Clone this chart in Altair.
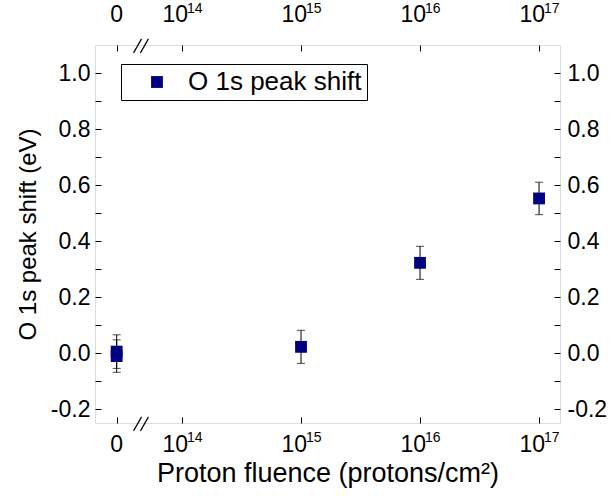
import altair as alt
import numpy as np
import pandas as pd

# ---- data ----
FLUENCE = [0, 0, 1e15, 1e16, 1e17]          # protons/cm^2
SHIFT = [0.005, -0.011, 0.022, 0.322, 0.552]  # eV
ERR = [0.060, 0.058, 0.059, 0.059, 0.058]     # eV
SERIES = "O 1s peak shift"

TICK_FLUENCE = [0, 1e14, 1e15, 1e16, 1e17]
TICK_BASE = ["0", "10", "10", "10", "10"]
TICK_EXP = ["", "14", "15", "16", "17"]
Y_TICKS = [-0.2, -0.1, 0.0, 0.1, 0.2, 0.3, 0.4, 0.5, 0.6, 0.7, 0.8, 0.9, 1.0]

# broken axis: fluence 0 is drawn left of the break, the rest on log10 decades
ZERO_POS = 13.451
X_DOMAIN = [13.269, 17.176]
Y_DOMAIN = [-0.25, 1.1]
BREAK_X0 = [13.593, 13.651]
BREAK_X1 = [13.660, 13.718]
BREAK_DY = [-0.028, 0.022]

FONT = "Liberation Sans"
NAVY = "#000080"


def to_pos(f):
    return ZERO_POS if f == 0 else float(np.log10(f))


df = pd.DataFrame({
    "pos": [to_pos(f) for f in FLUENCE],
    "shift": SHIFT,
    "lo": [s - e for s, e in zip(SHIFT, ERR)],
    "hi": [s + e for s, e in zip(SHIFT, ERR)],
    "series": [SERIES] * len(SHIFT),
})

lab = pd.DataFrame({
    "pos": [to_pos(f) for f in TICK_FLUENCE],
    "base": TICK_BASE,
    "exp": TICK_EXP,
})
zero_lab = lab[lab["exp"] == ""]
dec_lab = lab[lab["exp"] != ""]

brk_rows = []
for yv in Y_DOMAIN:
    for x0, x1 in zip(BREAK_X0, BREAK_X1):
        brk_rows.append({"x0": x0, "x1": x1, "y0": yv + BREAK_DY[0], "y1": yv + BREAK_DY[1]})
brk = pd.DataFrame(brk_rows)

xs = alt.Scale(domain=X_DOMAIN, nice=False, zero=False)
ys = alt.Scale(domain=Y_DOMAIN, nice=False, zero=False)

x_tick_vals = [to_pos(f) for f in TICK_FLUENCE]

y_label_expr = ("abs(round(datum.value*10)) % 2 == 0 ? "
                "(datum.value < -0.001 ? '-' : '') + format(abs(datum.value), '.1f') : ''")

common_axis = dict(domain=False, grid=False, tickSize=6, offset=-6, tickColor="black",
                   tickWidth=1, labelColor="black", titleColor="black",
                   titleFontWeight="normal", labelFont=FONT, titleFont=FONT)

bottom_axis = alt.Axis(values=x_tick_vals, labels=False, title="Proton fluence (protons/cm²)",
                       titleFontSize=27, titlePadding=37, **common_axis)
top_axis = alt.Axis(values=x_tick_vals, labels=False, title=None, orient="top", **common_axis)
left_axis = alt.Axis(values=Y_TICKS, labelExpr=y_label_expr, labelFontSize=23, labelPadding=5,
                     title="O 1s peak shift (eV)", titleFontSize=24, titlePadding=10,
                     labelOverlap=False, **common_axis)
right_axis = alt.Axis(values=Y_TICKS, labelExpr=y_label_expr, labelFontSize=23, labelPadding=7,
                      title=None, orient="right", labelOverlap=False, **common_axis)

err_rule = alt.Chart(df).mark_rule(color="black", strokeWidth=1).encode(
    x=alt.X("pos:Q", scale=xs, axis=bottom_axis),
    y=alt.Y("lo:Q", scale=ys, axis=left_axis),
    y2="hi:Q",
)
cap_lo = alt.Chart(df).mark_tick(orient="horizontal", size=8, thickness=1, color="black").encode(
    x=alt.X("pos:Q", scale=xs, axis=None),
    y=alt.Y("lo:Q", scale=ys, axis=None),
)
cap_hi = alt.Chart(df).mark_tick(orient="horizontal", size=8, thickness=1, color="black").encode(
    x=alt.X("pos:Q", scale=xs, axis=None),
    y=alt.Y("hi:Q", scale=ys, axis=None),
)
points = alt.Chart(df).mark_square(size=140, opacity=1, strokeWidth=0).encode(
    x=alt.X("pos:Q", scale=xs, axis=None),
    y=alt.Y("shift:Q", scale=ys, axis=None),
    color=alt.Color("series:N", scale=alt.Scale(range=[NAVY]), legend=alt.Legend(
        orient="none", legendX=26, legendY=19, title=None, symbolType="square",
        symbolSize=140, symbolStrokeWidth=0, labelFontSize=26, labelFont=FONT,
        labelColor="black", labelLimit=500, padding=5, strokeColor="black",
        fillColor="white", symbolOffset=18, labelOffset=18)),
)
mirror = alt.Chart(df).mark_point(opacity=0).encode(
    x=alt.X("pos:Q", scale=xs, axis=top_axis),
    y=alt.Y("shift:Q", scale=ys, axis=right_axis),
)
breaks = alt.Chart(brk).mark_rule(color="black", strokeWidth=1.2).encode(
    x=alt.X("x0:Q", scale=xs, axis=None), x2="x1:Q",
    y=alt.Y("y0:Q", scale=ys, axis=None), y2="y1:Q",
)


def tick_labels(yval, dy_base, dy_exp):
    ydat = alt.YDatum(yval, axis=None)
    z = alt.Chart(zero_lab).mark_text(align="center", baseline="alphabetic", dy=dy_base,
                                      fontSize=23, font=FONT, color="black").encode(
        x=alt.X("pos:Q", scale=xs, axis=None), y=ydat, text="base:N")
    b = alt.Chart(dec_lab).mark_text(align="right", baseline="alphabetic", dy=dy_base, dx=6,
                                     fontSize=23, font=FONT, color="black").encode(
        x=alt.X("pos:Q", scale=xs, axis=None), y=ydat, text="base:N")
    e = alt.Chart(dec_lab).mark_text(align="left", baseline="alphabetic", dy=dy_exp, dx=5,
                                     fontSize=14, font=FONT, color="black").encode(
        x=alt.X("pos:Q", scale=xs, axis=None), y=ydat, text="exp:N")
    return [z, b, e]


layers = [err_rule, cap_lo, cap_hi, points, mirror, breaks]
layers += tick_labels(Y_DOMAIN[0], 29, 19)
layers += tick_labels(Y_DOMAIN[1], -23, -32)

chart = alt.layer(*layers).resolve_axis(x="independent", y="independent").properties(
    width=465, height=378,
    padding={"left": 95, "top": 45, "right": 52, "bottom": 79},
    autosize=alt.AutoSizeParams(type="none"),
).configure_view(stroke="black", strokeWidth=1.3).configure(font=FONT, background="white")

chart.save("out.html", embed_options={"renderer": "svg", "actions": False})
